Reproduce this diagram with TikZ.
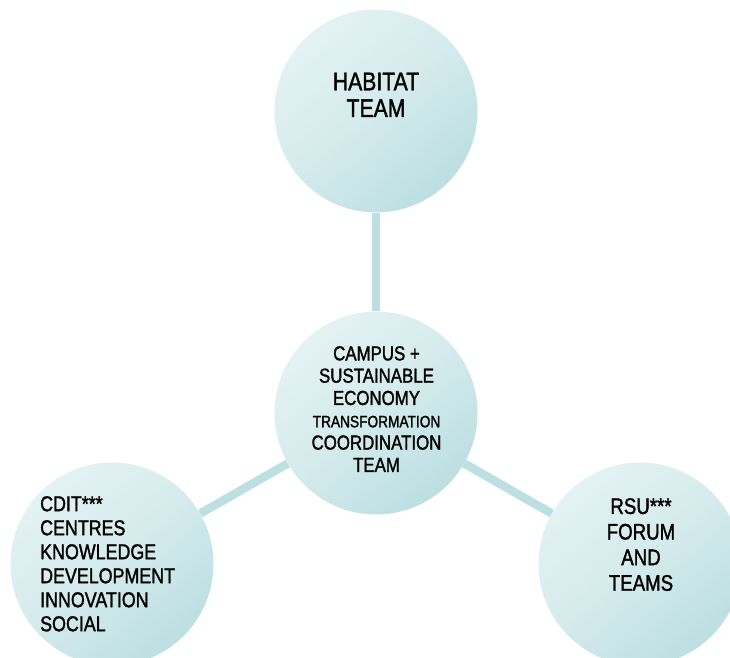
\documentclass[tikz,border=0pt]{standalone}
\usepackage{fontspec}
\setmainfont{Liberation Sans}[FakeStretch=0.83, FakeBold=1.4]
\usetikzlibrary{backgrounds}
\definecolor{clight}{HTML}{E4F2F3}
\definecolor{cdark}{HTML}{BCDFE2}
\definecolor{cline}{HTML}{BCDFE2}
\tikzset{
  bubble/.style={circle, minimum size=203pt, inner sep=0pt, draw=none,
    top color=clight, bottom color=cdark, middle color=clight!60!cdark, shading angle=40},
  link/.style={draw=cline, line width=8.5pt},
  lbl/.style={inner sep=0pt, text=black, align=center}
}
\begin{document}
\begin{tikzpicture}[x=1pt, y=-1pt]
\useasboundingbox (0,0) rectangle (730,657);
\node[bubble] (top) at (376,111) {};
\node[bubble] (mid) at (376,413) {};
\node[bubble] (bl) at (112,564) {};
\node[bubble] (br) at (640,564) {};
\begin{scope}[on background layer]
  \draw[link] (top) -- (mid);
  \draw[link] (mid) -- (bl);
  \draw[link] (mid) -- (br);
\end{scope}
\node[lbl, anchor=north, font=\fontsize{25.5}{26.7}\selectfont] (ttop) at (376,72.5) {HABITAT\\TEAM};
\node[lbl, anchor=north, font=\fontsize{20.3}{22.3}\selectfont] (tmid) at (376.5,346) {CAMPUS +\\SUSTAINABLE\\ECONOMY\\{\fontsize{16.5}{22.3}\selectfont TRANSFORMATION}\\COORDINATION\\TEAM};
\node[lbl, anchor=north west, align=left, font=\fontsize{21.5}{24}\selectfont] (tbl) at (40,496) {CDIT***\\CENTRES\\KNOWLEDGE\\DEVELOPMENT\\INNOVATION\\SOCIAL};
\node[lbl, anchor=north, font=\fontsize{22.5}{25.6}\selectfont] (tbr) at (641,498) {RSU***\\FORUM\\AND\\TEAMS};
\end{tikzpicture}
\end{document}
